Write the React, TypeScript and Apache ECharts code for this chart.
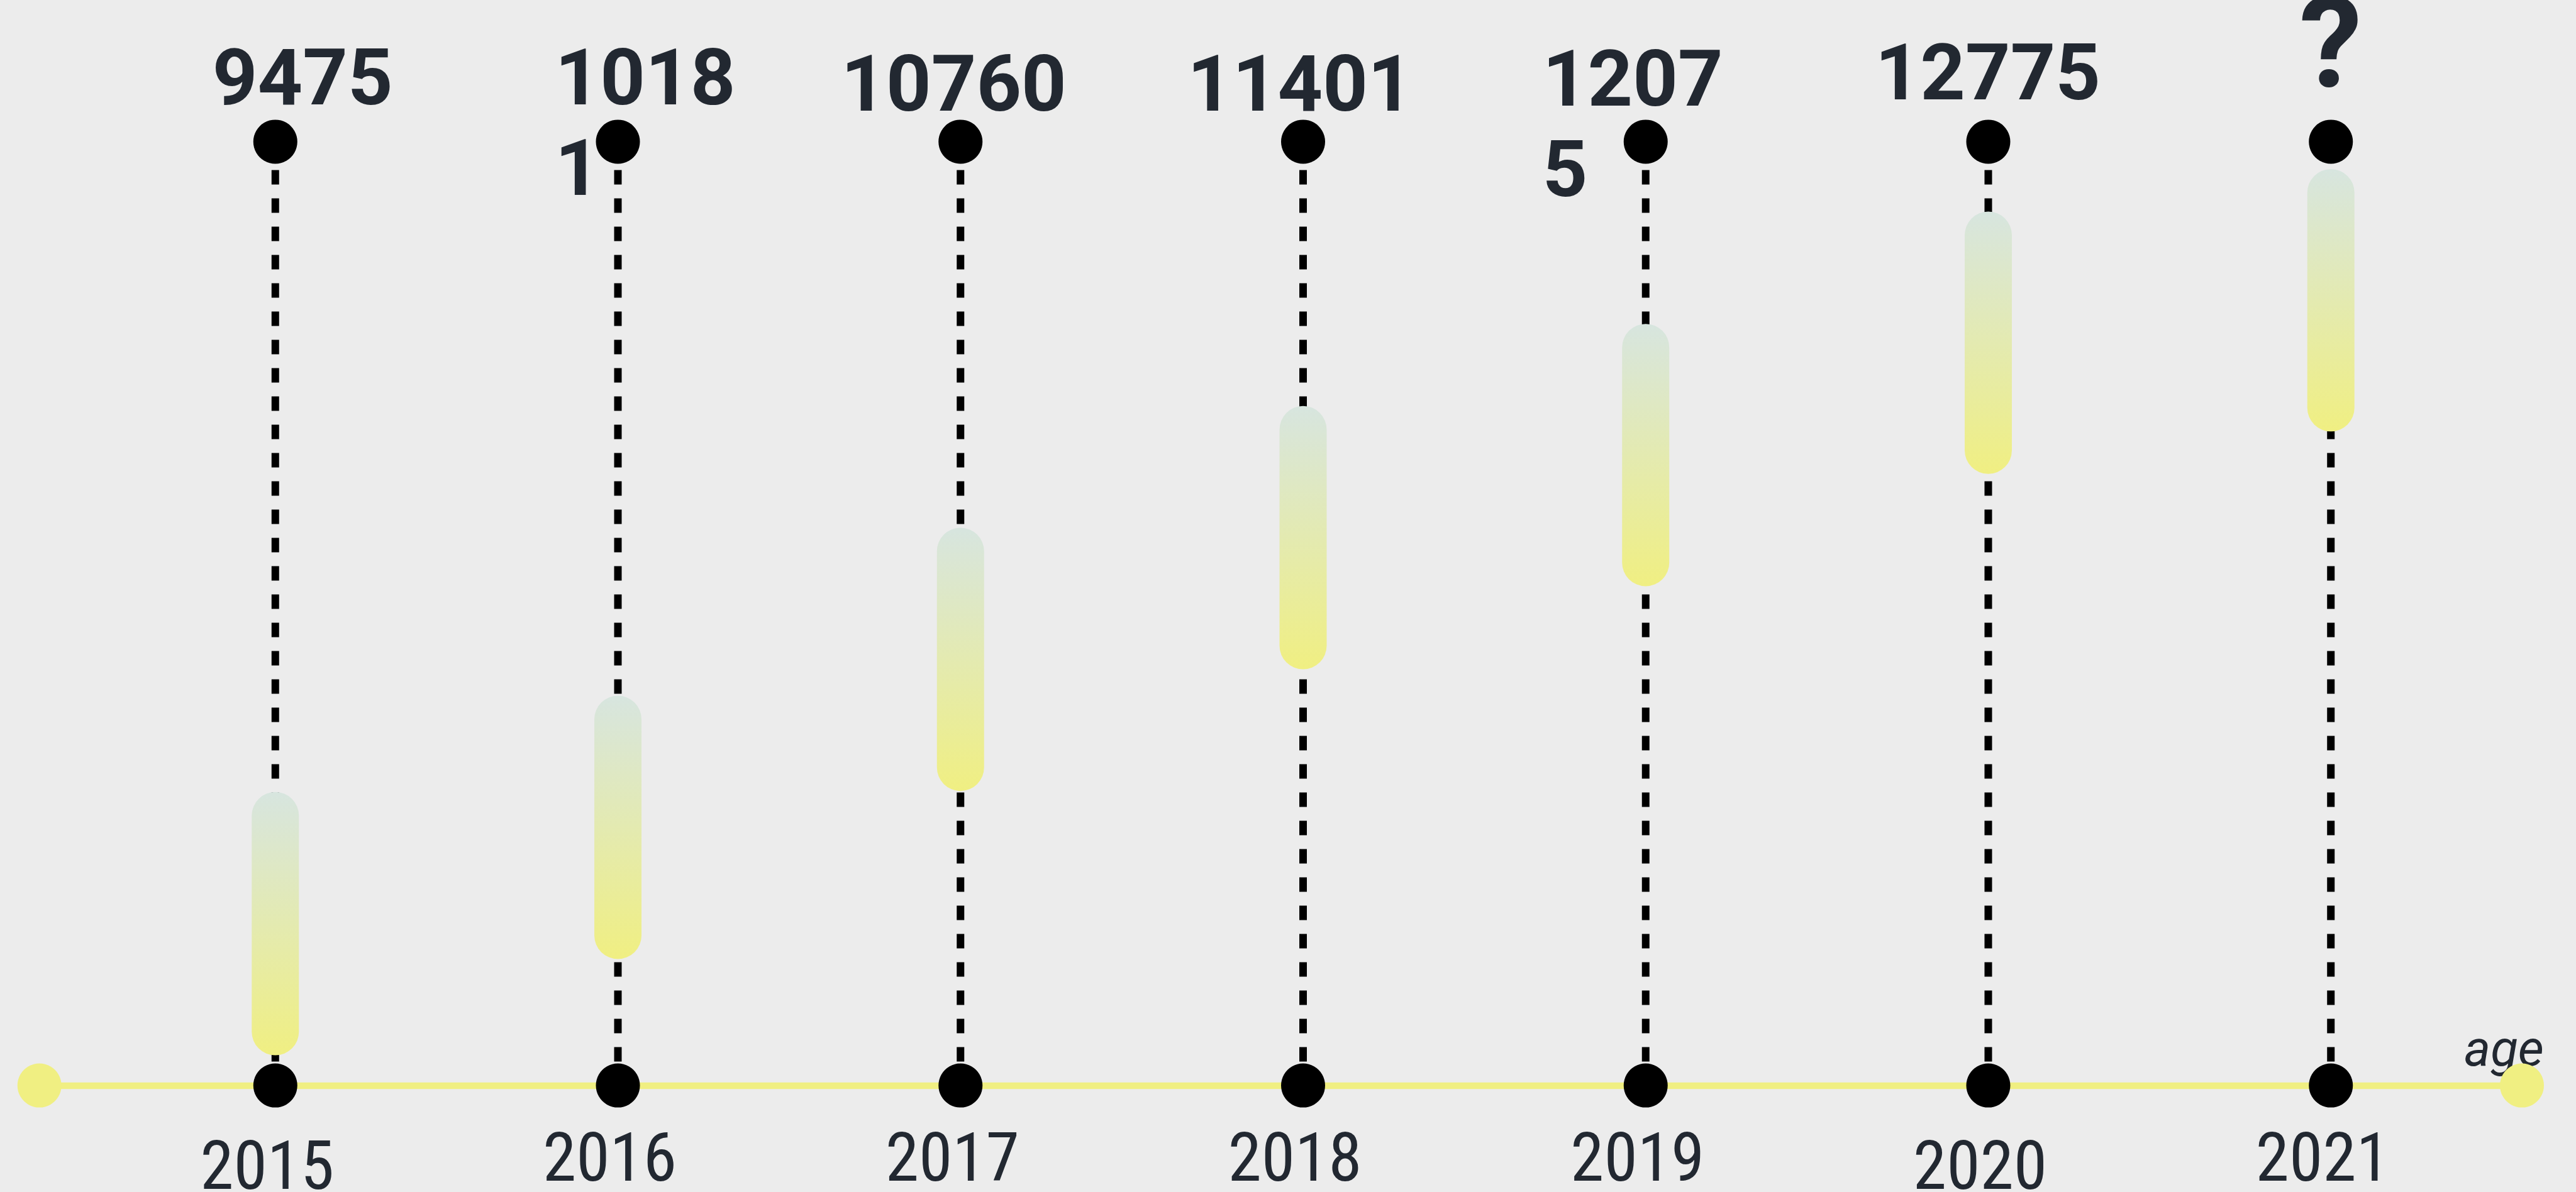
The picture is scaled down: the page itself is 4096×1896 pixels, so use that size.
import React, { useEffect, useRef } from "react";
import * as echarts from "echarts";

// ---- data ----
const years = ["2015", "2016", "2017", "2018", "2019", "2020", "2021"];
const topLabels = ["9475", "10181", "10760", "11401", "12075", "12775", "?"];
const rangeLow = [3.2, 13.4, 31.2, 44.1, 52.9, 64.8, 69.3];
const rangeHigh = [31.1, 41.3, 59.1, 72.0, 80.7, 92.6, 97.1];
const axisMin = 0;
const axisMax = 100;
const wrappedLabels = [1, 4]; // numbers that wrap onto a second line
const loweredYears = [0, 5]; // year labels sitting slightly lower

// ---- label placement tweaks (px from the top dot centre) ----
const labelDx = [-100, -100, -190, -184, -164, -180, -50];
const labelDy = [-174, -174, -164, -164, -172, -182, -216];

const TEXT = "#222831";
const YELLOW = "#f0ef82";

export default function App() {
  const ref = useRef<HTMLDivElement>(null);

  useEffect(() => {
    if (!ref.current) return;
    const chart = echarts.init(ref.current, null, { renderer: "svg" });

    const topData = years.map((_, i) => {
      const txt = wrappedLabels.includes(i)
        ? topLabels[i].slice(0, -1) + "\n" + topLabels[i].slice(-1)
        : topLabels[i];
      const isQ = topLabels[i] === "?";
      return {
        value: [i, axisMax],
        label: {
          show: true,
          position: "inside",
          align: "left",
          verticalAlign: "top",
          offset: [labelDx[i], labelDy[i]],
          formatter: txt,
          fontFamily: "Roboto",
          fontWeight: "bold",
          fontSize: isQ ? 200 : 125,
          lineHeight: isQ ? 120 : 144,
          color: TEXT,
        },
      };
    });

    const option: any = {
      animation: false,
      backgroundColor: "#ececec",
      grid: [
        {
          left: 165.4,
          right: 117.4,
          top: 225.4,
          bottom: 169.4,
          containLabel: false,
          outerBoundsMode: "none",
        },
        {
          left: 62.7,
          right: 86,
          top: 225.4,
          bottom: 169.4,
          containLabel: false,
          outerBoundsMode: "none",
        },
      ],
      xAxis: [
        {
          type: "category",
          gridIndex: 0,
          boundaryGap: true,
          data: years.map((y, i) =>
            loweredYears.includes(i)
              ? { value: y, textStyle: { padding: [13, 26, 0, 0] } }
              : y
          ),
          axisLine: { show: false },
          axisTick: { show: false },
          splitLine: { show: false },
          axisLabel: {
            margin: 74,
            fontSize: 108,
            lineHeight: 80,
            fontFamily: "'Roboto Condensed', Roboto",
            color: TEXT,
            verticalAlign: "top",
            padding: [0, 26, 0, 0],
          },
        },
        {
          type: "value",
          gridIndex: 1,
          min: 0,
          max: 1,
          position: "bottom",
          axisLine: {
            show: true,
            onZero: false,
            symbol: ["circle", "circle"],
            symbolSize: [70, 70],
            lineStyle: { color: YELLOW, width: 10.4 },
          },
          axisTick: { show: false },
          axisLabel: { show: false },
          splitLine: { show: false },
          name: "age",
          nameLocation: "end",
          nameGap: 35,
          nameTextStyle: {
            fontFamily: "Roboto",
            fontStyle: "italic",
            fontSize: 80,
            lineHeight: 80,
            color: TEXT,
            align: "right",
            verticalAlign: "bottom",
            padding: [0, 0, 19, 0],
          },
        },
      ],
      yAxis: [
        { type: "value", gridIndex: 0, min: axisMin, max: axisMax, show: false },
        { type: "value", gridIndex: 1, min: 0, max: 1, show: false },
      ],
      series: [
        {
          type: "custom",
          name: "stem",
          xAxisIndex: 0,
          yAxisIndex: 0,
          z: 1,
          silent: true,
          data: years.map((_, i) => [i, axisMin, axisMax]),
          renderItem: (params: any, api: any) => {
            const top = api.coord([api.value(0), api.value(2)]);
            const bot = api.coord([api.value(0), api.value(1)]);
            return {
              type: "line",
              shape: { x1: top[0], y1: top[1], x2: bot[0], y2: bot[1] },
              style: { stroke: "#000", lineWidth: 12, lineDash: [23, 22], fill: null },
            };
          },
        },
        {
          type: "bar",
          name: "base",
          stack: "range",
          barWidth: 75,
          silent: true,
          itemStyle: { color: "transparent" },
          data: rangeLow,
          z: 2,
        },
        {
          type: "bar",
          name: "range",
          stack: "range",
          barWidth: 75,
          z: 3,
          itemStyle: {
            borderRadius: 38,
            color: new echarts.graphic.LinearGradient(0, 0, 0, 1, [
              { offset: 0, color: "#d7e5df" },
              { offset: 1, color: "#f0ef82" },
            ]),
          },
          data: rangeHigh.map((h, i) => +(h - rangeLow[i]).toFixed(2)),
        },
        {
          type: "scatter",
          name: "bottomDots",
          symbol: "circle",
          symbolSize: 70,
          clip: false,
          z: 5,
          itemStyle: { color: "#000", opacity: 1 },
          data: years.map((_, i) => [i, axisMin]),
        },
        {
          type: "scatter",
          name: "topDots",
          symbol: "circle",
          symbolSize: 70,
          clip: false,
          z: 5,
          itemStyle: { color: "#000", opacity: 1 },
          data: topData,
        },
      ],
    };

    chart.setOption(option);
    return () => chart.dispose();
  }, []);

  return (
    <div
      ref={ref}
      style={{ position: "fixed", left: 0, top: 0, width: 4096, height: 1896 }}
    />
  );
}
